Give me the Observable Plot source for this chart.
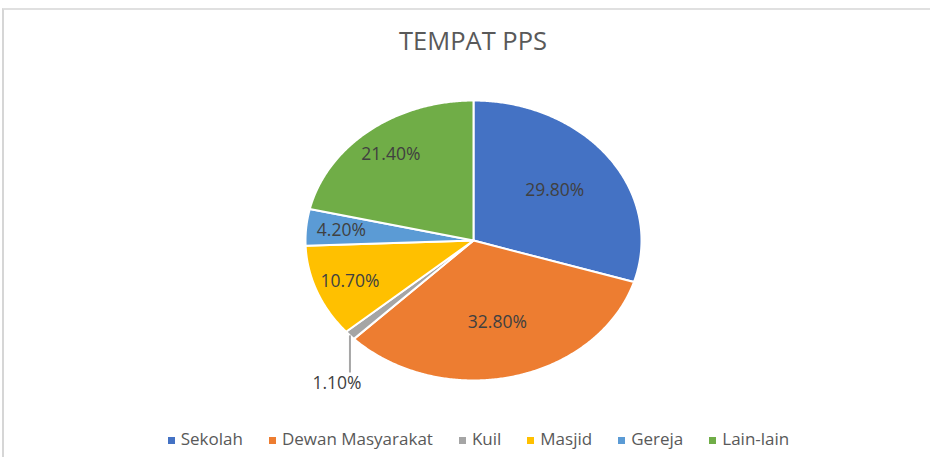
<!DOCTYPE html>
<html>
<head>
<meta charset="utf-8">
<script src="https://cdn.jsdelivr.net/npm/d3@7"></script>
<script src="https://cdn.jsdelivr.net/npm/@observablehq/plot@0.6"></script>
<style>
  html, body { margin: 0; padding: 0; background: #fff; }
  body { font-family: "Open Sans", "Noto Sans", sans-serif; }
  #page { position: relative; width: 930px; height: 457px; overflow: hidden; }
  #frame { position: absolute; left: 2px; top: 8px; width: 1000px; height: 500px;
           border-left: 2px solid #d6d6d6; border-top: 2px solid #e0e0e0; box-sizing: border-box; }
  #title { position: relative; box-sizing: border-box; width: 930px; height: 80px; padding-top: 28px; padding-left: 16px;
           text-align: center; font-size: 25.5px; line-height: 24px; color: #595959; }
  #chart { position: relative; height: 320px; }
  #chart svg { display: block; }
  #legend { position: relative; box-sizing: border-box; width: 930px; padding-top: 29px; padding-left: 27px;
            display: flex; justify-content: center; font-size: 17px; line-height: 20px; color: #595959; }
  .item { display: flex; align-items: center; margin: 0 13px; }
  .sw { width: 7px; height: 7px; margin-right: 6px; margin-top: 2px; }
</style>
</head>
<body>
<div id="page">
  <div id="frame"></div>
  <div id="title"></div>
  <div id="chart"></div>
  <div id="legend"></div>
</div>
<script>
const title = "TEMPAT PPS";
const categories = ["Sekolah", "Dewan Masyarakat", "Kuil", "Masjid", "Gereja", "Lain-lain"];
const values = [29.8, 32.8, 1.1, 10.7, 4.2, 21.4];
const valueLabels = ["29.80%", "32.80%", "1.10%", "10.70%", "4.20%", "21.40%"];
const colors = ["#4472C4", "#ED7D31", "#A5A5A5", "#FFC000", "#5B9BD5", "#70AD47"];

document.getElementById("title").textContent = title;

const arcs = d3.pie().sort(null).value(d => d)(values);

// slice polygons in normalized pie coordinates (unit radius)
const polys = [];
arcs.forEach((a, i) => {
  const name = categories[i];
  polys.push({name, x: 0, y: 0});
  const steps = Math.max(2, Math.ceil((a.endAngle - a.startAngle) / (Math.PI / 360)));
  for (let k = 0; k <= steps; k++) {
    const t = a.startAngle + (a.endAngle - a.startAngle) * k / steps;
    polys.push({name, x: Math.sin(t), y: Math.cos(t)});
  }
  polys.push({name, x: 0, y: 0});
});

const inside = [], outside = [], leaders = [];
arcs.forEach((a, i) => {
  const m = (a.startAngle + a.endAngle) / 2;
  const share = values[i] / d3.sum(values);
  if (share < 0.02) {
    const ex = Math.sin(m), ey = Math.cos(m);
    leaders.push({x1: ex, y1: ey, x2: ex, y2: ey - 0.265});
    outside.push({x: ex, y: ey - 0.345, text: valueLabels[i]});
  } else {
    const r = share > 0.25 ? 0.6 : 0.79;
    inside.push({x: r * Math.sin(m), y: r * Math.cos(m), text: valueLabels[i]});
  }
});

const chart = Plot.plot({
  width: 930,
  height: 320,
  margin: 0,
  x: {domain: [-1, 1], range: [305, 641], axis: null},
  y: {domain: [-1, 1], range: [300, 20], axis: null},
  color: {domain: categories, range: colors},
  style: {background: "transparent", fontFamily: "'Open Sans', sans-serif"},
  marks: [
    Plot.line(polys, {x: "x", y: "y", z: "name", fill: "name", stroke: "white", strokeWidth: 2, strokeLinejoin: "round", curve: "linear"}),
    Plot.link(leaders, {x1: "x1", y1: "y1", x2: "x2", y2: "y2", stroke: "#a6a6a6", strokeWidth: 2}),
    Plot.text(inside, {x: "x", y: "y", text: "text", fill: "#404040", fontSize: 17.5}),
    Plot.text(outside, {x: "x", y: "y", text: "text", fill: "#404040", fontSize: 17.5, dx: -13})
  ]
});
document.getElementById("chart").append(chart);

const legend = document.getElementById("legend");
categories.forEach((c, i) => {
  const it = document.createElement("div");
  it.className = "item";
  const sw = document.createElement("span");
  sw.className = "sw";
  sw.style.background = colors[i];
  const tx = document.createElement("span");
  tx.textContent = c;
  it.append(sw, tx);
  legend.append(it);
});
</script>
</body>
</html>
